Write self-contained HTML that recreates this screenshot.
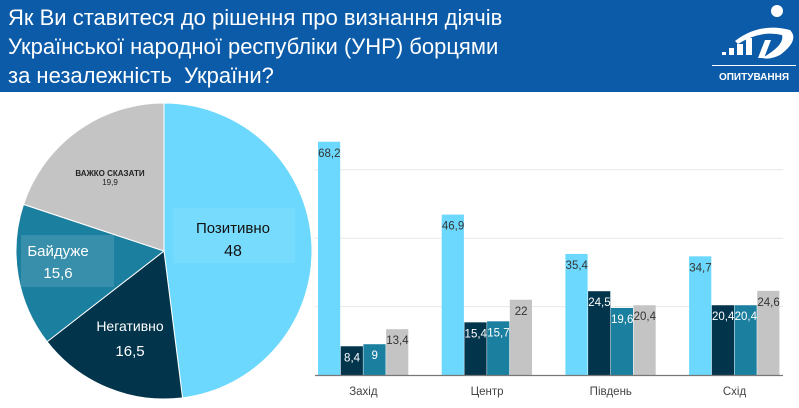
<!DOCTYPE html>
<html><head><meta charset="utf-8"><style>
body{margin:0;width:799px;height:408px;background:#fff;overflow:hidden;font-family:"Liberation Sans",sans-serif;position:relative}
#hdr{position:absolute;left:0;top:0;width:799px;height:92px;background:#0b5ba8}
#title{position:absolute;left:8px;top:3px;color:#fff;font-size:22px;line-height:29px}
svg{position:absolute;left:0;top:0}
</style></head><body>
<div id="hdr">
<div id="title">Як Ви ставитеся до рішення про визнання діячів<br>Української народної республіки (УНР) борцями<br>за незалежність&nbsp; України?</div>
<svg width="799" height="92">
<g fill="#fff">
<rect x="722" y="52" width="4" height="3"/><rect x="729" y="48" width="5" height="7"/><rect x="737" y="44" width="6" height="11"/><rect x="746" y="38" width="6" height="17"/>
<path d="M735 41 Q760 22 790 30 Q800 40 780 55 Q770 60 762 58 Q785 45 782 35 Q760 30 738 44Z"/>
<path d="M765 40 L758 58 L764 58 L771 40Z"/>
<circle cx="777" cy="11" r="6"/>
<rect x="712" y="65" width="84" height="1"/>
<text x="754" y="80" text-anchor="middle" font-size="10" font-weight="bold" font-family="Liberation Sans, sans-serif">ОПИТУВАННЯ</text>
</g></svg>
</div>
<svg id="chart" width="799" height="408"></svg>
<script>
const NS="http://www.w3.org/2000/svg";
const svg=document.getElementById('chart');
function mk(t,a,p){const e=document.createElementNS(NS,t);for(const k in a)e.setAttribute(k,a[k]);(p||svg).appendChild(e);return e;}
const colors=["#6cd8fd","#02344c","#1b7f9f","#c4c4c4"];
// pie
const pieLabels=["Позитивно","Негативно","Байдуже","Важко сказати"];
const pieValues=[48,16.5,15.6,19.9];
const cx=164,cy=251,r=148;
let a0=0;const tot=pieValues.reduce((s,v)=>s+v,0);
pieValues.forEach((v,i)=>{
 const a1=a0+v/tot*2*Math.PI;
 const p=(a)=>[cx+r*Math.sin(a),cy-r*Math.cos(a)];
 const [x0,y0]=p(a0),[x1,y1]=p(a1);
 const s=mk('path',{d:`M${cx},${cy}L${x0},${y0}A${r},${r} 0 ${a1-a0>Math.PI?1:0} 1 ${x1},${y1}Z`,fill:colors[i],stroke:"#fff","stroke-width":1});
 
 
 a0=a1;
});
function fmt(v){return String(v).replace('.',',');}
let b=mk('rect',{x:173,y:208,width:122,height:55,fill:"#fff","fill-opacity":0.08});

b=mk('rect',{x:21,y:235,width:93,height:52,fill:"#fff","fill-opacity":0.13});

const pl=[[233,233,16,"#111",15,1],[233,256,16,"#111",16,1],[130,331,14,"#fff",14,1],[130,356,14,"#fff",15,1],[58,256,15,"#fff",15,2],[58,278,15,"#fff",15,2],[110,176,8,"#222",8,3],[110,185,8,"#222",8,3]];
const pt=[pieLabels[0],fmt(pieValues[0]),pieLabels[1],fmt(pieValues[1]),pieLabels[2],fmt(pieValues[2]),"ВАЖКО СКАЗАТИ",fmt(pieValues[3])];
pt.forEach((t,i)=>{const L=pl[i];const e=mk('text',{x:L[0],y:L[1],"font-size":L[4],fill:L[3],"text-anchor":"middle","font-weight":i==6?"bold":"normal"});e.textContent=t;
});
// bars
const categories=["Захід","Центр","Південь","Схід"];
const positive=[68.2,46.9,35.4,34.7];
const negative=[8.4,15.4,24.5,20.4];
const indifferent=[9,15.7,19.6,20.4];
const hard=[13.4,22,20.4,24.6];
const series=[positive,negative,indifferent,hard];
const gridTicks=[20,40,60];
const base=375,ppu=3.42,x0b=318,gw=123.7,bw=22.7;
const yS=v=>base-v*ppu;
gridTicks.forEach(t=>{const g=mk('line',{x1:315,x2:783,y1:yS(t),y2:yS(t),stroke:"#e8e8e8","stroke-width":1});});
categories.forEach((c,ci)=>{
 series.forEach((s,si)=>{
  const x=x0b+ci*gw+si*bw,v=s[ci];
  const rc=mk('rect',{x:x,y:yS(v),width:bw-0.5,height:v*ppu,fill:colors[si]});
  
  const t=mk('text',{x:x+bw/2,y:yS(v)+15,"font-size":11.5,"text-anchor":"middle",fill:(si==1||si==2)?"#fff":"#333"});
  t.textContent=fmt(v);
 });
 const l=mk('text',{x:x0b+ci*gw+2*bw,y:395,"font-size":11.5,"text-anchor":"middle",fill:"#444"});
 l.textContent=c;
});
const ax=mk('line',{x1:315,x2:783,y1:base+0.5,y2:base+0.5,stroke:"#777","stroke-width":1.2});

</script>
</body></html>
